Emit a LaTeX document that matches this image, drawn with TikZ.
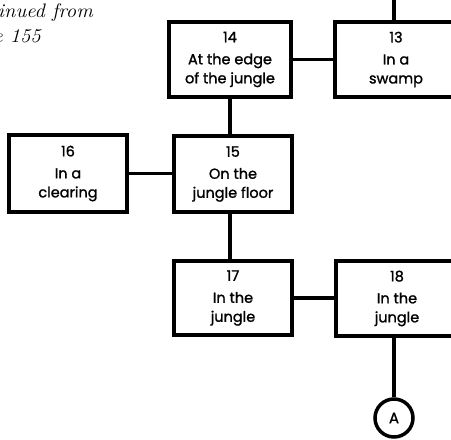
\documentclass[tikz,border=0pt]{standalone}
\usepackage{fontspec}
\newfontfamily\boxfont[FakeBold=1.3]{Poppins}
\begin{document}
\begin{tikzpicture}[x=1pt,y=-1pt,
  room/.style={draw, line width=4pt, align=center, inner sep=0pt,
    font=\boxfont\fontsize{14.5}{19}\selectfont},
  link/.style={line width=3.5pt},
  cont/.style={inner sep=0pt, font=\itshape\fontsize{19.5}{25}\selectfont}]
\useasboundingbox (0,0) rectangle (451,440);
\clip (0,0) rectangle (451,440);
\node[cont, anchor=base east] (c1) at (93,17) {\scalebox{1.06}[1]{Continued from}};
\node[cont, anchor=base east] (c2) at (41,42) {\scalebox{1.06}[1]{page 155}};
\node[room, minimum width=122pt, minimum height=75pt] (n14) at (230,59.5) {14\\[3pt]At the edge\\of the jungle};
\node[room, minimum width=122pt, minimum height=75pt] (n13) at (396,59.5) {13\\[3pt]In a\\swamp};
\node[room, minimum width=118pt, minimum height=77pt] (n16) at (68,173.5) {16\\[3pt]In a\\clearing};
\node[room, minimum width=118pt, minimum height=76pt] (n15) at (233,174) {15\\[3pt]On the\\jungle floor};
\node[room, minimum width=118pt, minimum height=74pt] (n17) at (233,298) {17\\[3pt]In the\\jungle};
\node[room, minimum width=122pt, minimum height=75pt] (n18) at (397,298.5) {18\\[3pt]In the\\jungle};
\node[draw, circle, line width=3.5pt, minimum size=38pt, inner sep=0pt, font=\boxfont\fontsize{15}{15}\selectfont] (A) at (394,418) {A};
\coordinate (top) at (394,-5);
\draw[link] (top) -- (top |- n13.north);
\draw[link] (n14.east) -- (n13.west);
\draw[link] (n14.south) -- (n14.south |- n15.north);
\draw[link] (n16.east) -- (n16.east -| n15.west);
\draw[link] (n15.south -| n14.south) -- (n17.north -| n14.south);
\draw[link] (n17.east) -- (n17.east -| n18.west);
\draw[link] (A.north) -- (A.north |- n18.south);
\end{tikzpicture}
\end{document}
